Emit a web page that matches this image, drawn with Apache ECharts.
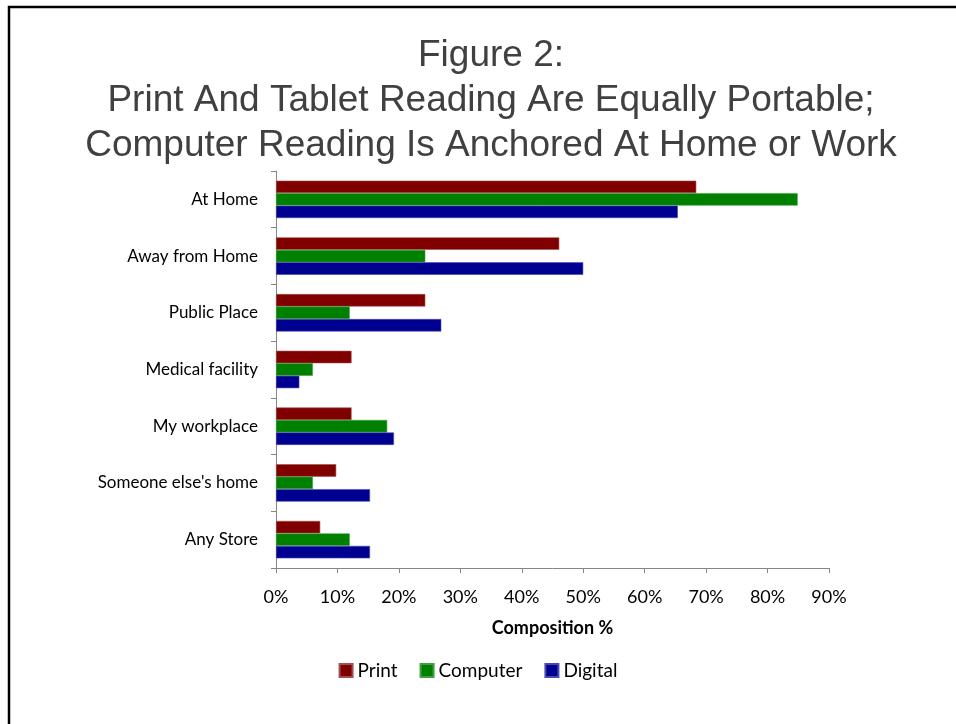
<!DOCTYPE html>
<html>
<head>
<meta charset="utf-8">
<script src="https://cdn.jsdelivr.net/npm/echarts@6/dist/echarts.min.js"></script>
<style>
  html, body { margin: 0; padding: 0; background: #fff; }
  #chart { width: 956px; height: 724px; }
</style>
</head>
<body>
<div id="chart"></div>
<script>
// Places where people read, share of readers (%) by medium
const categories = ['At Home', 'Away from Home', 'Public Place', 'Medical facility', 'My workplace', "Someone else's home", 'Any Store'];
const printValues = [68.4, 46.1, 24.3, 12.3, 12.3, 9.8, 7.2];
const computerValues = [84.9, 24.3, 12.0, 6.0, 18.1, 6.0, 12.0];
const digitalValues = [65.4, 50.0, 26.9, 3.8, 19.2, 15.3, 15.3];
const titleLines = ['Figure 2:', 'Print And Tablet Reading Are Equally Portable;', 'Computer Reading Is Anchored At Home or Work'];

const labelFont = 'Lato, "Open Sans", sans-serif';

const chart = echarts.init(document.getElementById('chart'), null, { renderer: 'canvas' });

function barSeries(name, data, color, edge) {
  return {
    name: name,
    type: 'bar',
    data: data,
    barGap: '0%',
    barCategoryGap: '34%',
    itemStyle: { color: color, borderColor: edge, borderWidth: 0.6 },
    emphasis: { disabled: true },
    animation: false
  };
}

chart.setOption({
  backgroundColor: '#fff',
  animation: false,
  title: {
    text: titleLines.join('\n'),
    left: 486,
    textAlign: 'center',
    top: 28,
    textStyle: {
      fontFamily: '"Liberation Sans", Arial, sans-serif',
      fontSize: 37,
      fontWeight: 'normal',
      color: '#404040',
      lineHeight: 45
    }
  },
  legend: {
    bottom: 39,
    left: 'center',
    icon: 'rect',
    itemWidth: 13,
    itemHeight: 13,
    itemGap: 22,
    textStyle: { fontFamily: labelFont, fontSize: 19, color: '#000' },
    data: ['Print', 'Computer', 'Digital']
  },
  grid: { left: 276, right: 127, top: 171, bottom: 156, containLabel: false },
  xAxis: {
    type: 'value',
    min: 0,
    max: 90,
    interval: 10,
    name: 'Composition %',
    nameLocation: 'middle',
    nameGap: 51,
    nameTextStyle: { fontFamily: labelFont, fontSize: 18, fontWeight: 'bold', color: '#000' },
    axisLine: { show: true, lineStyle: { color: '#868686', width: 1 } },
    axisTick: { show: true, length: 5, lineStyle: { color: '#868686' } },
    axisLabel: { formatter: '{value}%', fontFamily: labelFont, fontSize: 18, color: '#000', margin: 20 },
    splitLine: { show: false }
  },
  yAxis: {
    type: 'category',
    data: categories,
    inverse: true,
    axisLine: { show: true, lineStyle: { color: '#868686', width: 1 } },
    axisTick: { show: true, length: 5, lineStyle: { color: '#868686' } },
    axisLabel: { fontFamily: labelFont, fontSize: 17, color: '#000', margin: 18 }
  },
  series: [
    barSeries('Print', printValues, '#800000', '#a05050'),
    barSeries('Computer', computerValues, '#008000', '#40a040'),
    barSeries('Digital', digitalValues, '#000090', '#4848b0')
  ],
  graphic: [
    {
      type: 'polyline',
      shape: { points: [[9, 730], [9, 7], [960, 7]] },
      style: { stroke: '#000', lineWidth: 2.5, fill: null },
      silent: true
    }
  ]
});
</script>
</body>
</html>
